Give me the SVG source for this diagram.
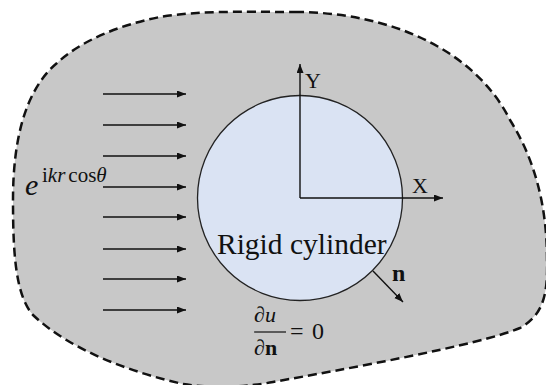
<svg xmlns="http://www.w3.org/2000/svg" width="546" height="385" viewBox="0 0 546 385">
<defs>
<style>
.serif{font-family:"Liberation Serif","Times New Roman",serif;fill:#111}
.ln{stroke:#111;stroke-width:1.5;fill:none}
.ax{stroke:#111;stroke-width:1.4;fill:none}
</style>
<marker id="ah" markerUnits="userSpaceOnUse" markerWidth="10" markerHeight="8" refX="9" refY="3.5" orient="auto">
<path d="M0,0 L9,3.5 L0,7 z" fill="#111"/>
</marker>
</defs>
<rect width="546" height="385" fill="#ffffff"/>
<g id="domain">
<path d="M295,12 C390,12 475,50 510,120 C532,155 547,200 547,260 C548,295 543,315 520,328 C480,345 340,370 273,382 C240,388 210,388 183,384 C130,372 70,350 33,315 C15,295 13,250 13,200 C13,140 25,90 57,63 C80,42 115,26 160,17 C200,10 260,12 295,12 Z" fill="#c8c8c8" stroke="#111" stroke-width="2.5" stroke-dasharray="9 5"/>
</g>
<g id="cylinder">
<circle cx="300" cy="198" r="102.5" fill="#dae3f3" stroke="#222" stroke-width="1.3"/>
<text class="serif" x="217" y="254" font-size="29.5">Rigid cylinder</text>
</g>
<g id="connectors">
<line class="ln" x1="103" y1="94" x2="186" y2="94" marker-end="url(#ah)"/>
<line class="ln" x1="103" y1="125" x2="186" y2="125" marker-end="url(#ah)"/>
<line class="ln" x1="103" y1="156" x2="186" y2="156" marker-end="url(#ah)"/>
<line class="ln" x1="103" y1="187" x2="186" y2="187" marker-end="url(#ah)"/>
<line class="ln" x1="103" y1="217" x2="186" y2="217" marker-end="url(#ah)"/>
<line class="ln" x1="103" y1="249" x2="186" y2="249" marker-end="url(#ah)"/>
<line class="ln" x1="103" y1="279" x2="186" y2="279" marker-end="url(#ah)"/>
<line class="ln" x1="103" y1="310" x2="186" y2="310" marker-end="url(#ah)"/>
<line class="ax" x1="300" y1="198" x2="300" y2="64" marker-end="url(#ah)"/>
<line class="ax" x1="300" y1="198" x2="443" y2="198" marker-end="url(#ah)"/>
<line class="ax" x1="373" y1="271" x2="403" y2="302" marker-end="url(#ah)"/>
</g>
<g id="labels">
<text class="serif" x="305" y="88" font-size="22">Y</text>
<text class="serif" x="412" y="193" font-size="22">X</text>
<text class="serif" x="392" y="281" font-size="24" font-weight="bold">n</text>
<text class="serif" x="25" y="195" font-size="30" font-style="italic">e</text>
<text class="serif" x="42" y="182" font-size="21">i<tspan font-style="italic">kr</tspan><tspan dx="3">cos</tspan><tspan font-style="italic">θ</tspan></text>
<text class="serif" x="254" y="322" font-size="22">∂<tspan font-style="italic">u</tspan></text>
<line x1="254" y1="332" x2="286" y2="332" stroke="#111" stroke-width="1.2"/>
<text class="serif" x="254" y="355" font-size="22">∂<tspan font-weight="bold">n</tspan></text>
<text class="serif" x="290" y="339" font-size="24">=</text>
<text class="serif" x="312" y="339" font-size="24">0</text>
</g>
</svg>
